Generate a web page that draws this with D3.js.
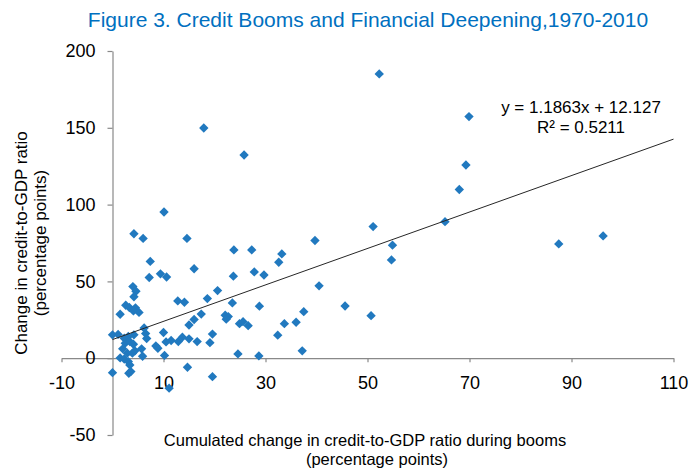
<!DOCTYPE html>
<html>
<head>
<meta charset="utf-8">
<script src="https://cdn.jsdelivr.net/npm/d3@7"></script>
<style>
  html, body { margin: 0; padding: 0; background: #fff; }
  svg { display: block; font-family: "Liberation Sans", Arial, sans-serif; }
</style>
</head>
<body>
<svg id="chart" width="697" height="470"></svg>
<script>
// Cumulated change in credit-to-GDP ratio during booms (x) and change in credit-to-GDP ratio (y)
const boomChange = [
  52.3, 17.9, 25.8, 10.1, 4.2, 6.0, 14.6, 23.8, 27.3, 69.9,
  69.3, 68.0, 65.2, 54.9, 54.7, 87.5, 96.2, 51.1, 39.7, 33.2,
  32.6, 16.0, 27.8, 29.7, 23.7, 40.5, 20.6, 18.6, 23.5, 28.8,
  45.6, 37.5, 50.7, 17.4, 22.1, 22.7, 22.3, 16.0, 15.0, 24.9,
  25.6, 26.6, 33.7, 36.0, 15.0, 19.6, 16.6, 19.1, 32.4, 24.6,
  28.7, 37.2, 7.4, 9.4, 10.6, 7.2, 4.0, 4.6, 4.2, 12.8,
  14.1, 1.5, 2.6, 3.3, 4.5, 4.1, 5.2, 0.0, 1.1, 6.2,
  6.5, 6.7, 10.0, 4.2, 3.1, 2.3, 2.5, 3.4, 4.1, 2.0,
  2.9, 3.9, 4.4, 5.7, 5.9, 8.5, 8.9, 10.5, 11.5, 12.9,
  10.2, 13.7, 1.5, 2.3, 3.1, 3.4, 14.7, 0.0, 3.2, 3.6,
  19.6, 11.1
];
const depthChange = [
  185.1, 149.9, 132.3, 95.2, 81.0, 78.0, 78.0, 70.5, 70.5, 157.3,
  125.8, 109.8, 88.9, 73.6, 64.0, 74.4, 79.6, 85.7, 76.6, 67.9,
  62.5, 58.2, 56.2, 54.2, 53.4, 47.1, 44.0, 38.8, 36.0, 33.9,
  34.0, 30.3, 27.7, 28.7, 28.0, 27.1, 25.4, 25.2, 21.6, 22.5,
  23.8, 21.2, 22.5, 23.4, 12.6, 15.7, 10.8, 10.1, 15.0, 2.8,
  1.5, 4.8, 63.0, 54.9, 52.9, 52.5, 46.6, 43.6, 40.0, 37.3,
  36.4, 28.6, 34.5, 33.0, 32.8, 30.8, 29.8, 15.2, 15.5, 19.7,
  16.0, 12.8, 16.7, 15.2, 14.1, 13.0, 9.8, 10.8, 9.1, 6.1,
  3.3, 3.3, 4.8, 6.1, 1.3, 8.0, 6.5, 10.6, 11.5, 10.8,
  1.8, 13.7, 0.2, -0.5, -2.2, -4.4, -5.9, -9.4, -9.8, -8.7,
  -12.0, -19.5
];

// Linear fit reported on the chart
const slope = 1.1863;
const intercept = 12.127;
const rSquared = 0.5211;

const xTicks = [-10, 10, 30, 50, 70, 90, 110];
const yTicks = [-50, 0, 50, 100, 150, 200];

const title = "Figure 3. Credit Booms and Financial Deepening,1970-2010";
const yTitle = ["Change in credit-to-GDP ratio", "(percentage points)"];
const xTitle = ["Cumulated change in credit-to-GDP ratio during booms", "(percentage points)"];

const svg = d3.select("#chart");
const axisColor = "#898989";
const pointColor = "#2179BF";
const plainNumber = d => String(d);   // keeps an ASCII hyphen for negatives

const x = d3.scaleLinear().domain([-10, 110]).range([61.5, 673.5]);
const y = d3.scaleLinear().domain([-50, 200]).range([435, 51]);

// Title
svg.append("text")
  .attr("x", 368).attr("y", 27)
  .attr("text-anchor", "middle")
  .attr("font-size", 21)
  .attr("fill", "#0070C0")
  .text(title);

// Axes cross at the origin
const xAxis = svg.append("g")
  .attr("transform", `translate(0,${y(0)})`)
  .call(d3.axisBottom(x).tickValues(xTicks).tickFormat(plainNumber)
    .tickSize(4).tickSizeOuter(0).tickPadding(14));
const yAxis = svg.append("g")
  .attr("transform", `translate(${x(0)},0)`)
  .call(d3.axisLeft(y).tickValues(yTicks).tickFormat(plainNumber)
    .tickSize(5).tickSizeOuter(0).tickPadding(12));

[xAxis, yAxis].forEach(g => {
  g.select(".domain").attr("stroke", axisColor).attr("stroke-width", 1.2);
  g.selectAll(".tick line").attr("stroke", axisColor).attr("stroke-width", 1.2);
  g.selectAll(".tick text")
    .attr("fill", "#000")
    .attr("font-size", 18)
    .attr("font-family", "Liberation Sans, Arial, sans-serif");
});

// Scatter points as diamonds
const diamond = d3.symbol().type(d3.symbolDiamond2).size(56);
svg.append("g")
  .selectAll("path")
  .data(boomChange.map((d, i) => [d, depthChange[i]]))
  .join("path")
  .attr("d", diamond)
  .attr("transform", d => `translate(${x(d[0])},${y(d[1])})`)
  .attr("fill", pointColor);

// Trend line
svg.append("line")
  .attr("x1", x(0)).attr("y1", y(intercept))
  .attr("x2", x(110)).attr("y2", y(slope * 110 + intercept))
  .attr("stroke", "#262626")
  .attr("stroke-width", 1);

// Regression equation
const eq = svg.append("text")
  .attr("text-anchor", "middle")
  .attr("font-size", 17)
  .attr("fill", "#000");
eq.append("tspan").attr("x", 581).attr("y", 113)
  .text(`y = ${slope}x + ${intercept}`);
eq.append("tspan").attr("x", 581).attr("y", 133)
  .text(`R² = ${rSquared}`);

// Axis titles
const yt = svg.append("text")
  .attr("transform", "translate(0,243) rotate(-90)")
  .attr("text-anchor", "middle")
  .attr("font-size", 17)
  .attr("fill", "#000");
yt.append("tspan").attr("x", 0).attr("y", 27).text(yTitle[0]);
yt.append("tspan").attr("x", 0).attr("y", 46).text(yTitle[1]);

const xt = svg.append("text")
  .attr("text-anchor", "middle")
  .attr("font-size", 16.5)
  .attr("fill", "#000");
xt.append("tspan").attr("x", 365).attr("y", 446).text(xTitle[0]);
xt.append("tspan").attr("x", 377).attr("y", 465).text(xTitle[1]);
</script>
</body>
</html>
